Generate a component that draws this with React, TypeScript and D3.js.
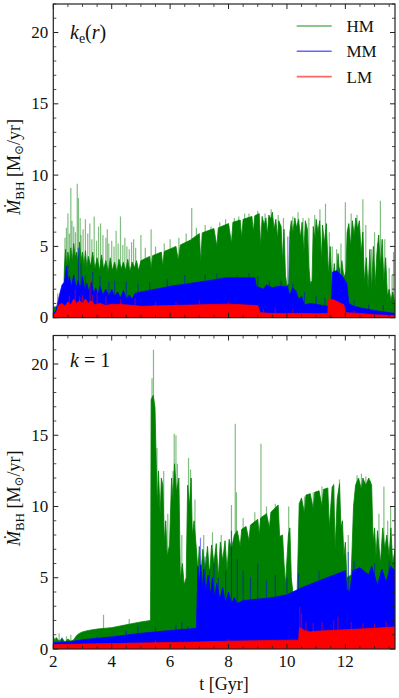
import React from "react";
import * as d3 from "d3";

type P = [number, number];

// ---------- data (t [Gyr], Mdot [Msun/yr]) ----------
const X_DOMAIN: [number, number] = [2, 13.7];
const Y_DOMAIN: [number, number] = [0, 22];
const xMajorTicks = [2, 4, 6, 8, 10, 12];
const yMajorTicks = [0, 5, 10, 15, 20];
const legendLabels = ["HM", "MM", "LM"];
const seriesColors = ["#008000", "#0000ff", "#ff0000"];

// top panel: k_e(r)
const topHMSolid: P[] = [
  [2.0, 0.75], [2.35, 0.8], [2.38, 3.5], [2.42, 4.8], [2.46, 3.6], [2.5, 4.6], [2.55, 3.8], [2.6, 4.9],
  [2.65, 3.9], [2.7, 5.2], [2.75, 4.2], [2.8, 4.6], [2.85, 3.7], [2.9, 5.3], [2.95, 4.0], [3.0, 4.6],
  [3.05, 3.6], [3.1, 4.7], [3.15, 3.5], [3.2, 4.3], [3.28, 3.6], [3.35, 4.6], [3.42, 3.4], [3.5, 4.2],
  [3.58, 3.3], [3.65, 4.4], [3.72, 3.4], [3.8, 4.0], [3.88, 3.2], [3.95, 4.2], [4.02, 3.3], [4.1, 3.9],
  [4.18, 3.2], [4.25, 4.1], [4.32, 3.4], [4.4, 3.9], [4.48, 3.3], [4.55, 4.1], [4.62, 3.2], [4.7, 3.9],
  [4.78, 3.5], [4.85, 4.0], [4.92, 3.3], [5.0, 4.0], [5.3, 4.3], [5.35, 3.4], [5.4, 4.35], [5.7, 4.6],
  [5.75, 3.6], [5.8, 4.65], [6.2, 5.0], [6.28, 4.0], [6.35, 5.1], [6.7, 5.45], [7.0, 5.9], [7.05, 3.9],
  [7.1, 5.95], [7.5, 6.25], [7.6, 5.0], [7.65, 6.3], [8.0, 6.6], [8.1, 5.2], [8.15, 6.7], [8.4, 6.85],
  [8.45, 5.6], [8.5, 6.9], [8.8, 7.1], [8.85, 6.0], [8.9, 7.15], [9.05, 7.3], [9.1, 5.0], [9.15, 7.1],
  [9.22, 6.5], [9.28, 7.0], [9.33, 5.8], [9.38, 7.2], [9.45, 6.9], [9.5, 7.4], [9.56, 6.2], [9.62, 6.9],
  [9.68, 5.5], [9.72, 6.8], [9.8, 6.4], [9.85, 4.0], [9.9, 6.2], [9.95, 3.0], [10.0, 2.2], [10.06, 2.4],
  [10.1, 6.0], [10.15, 6.8], [10.2, 5.9], [10.27, 7.0], [10.33, 6.3], [10.4, 6.9], [10.46, 5.6],
  [10.52, 6.7], [10.58, 4.5], [10.63, 6.8], [10.7, 6.2], [10.75, 3.5], [10.8, 2.4], [10.86, 2.6],
  [10.9, 6.4], [10.96, 5.5], [11.0, 6.9], [11.06, 6.0], [11.12, 6.8], [11.18, 4.0], [11.22, 6.5],
  [11.28, 5.2], [11.35, 6.6], [11.42, 3.0], [11.48, 5.0], [11.55, 2.0], [11.62, 3.8], [11.68, 2.2],
  [11.75, 4.5], [11.82, 2.5], [11.88, 4.0], [11.95, 2.8], [12.02, 3.2], [12.06, 6.0], [12.12, 6.6],
  [12.18, 5.0], [12.24, 6.8], [12.3, 5.8], [12.36, 7.0], [12.42, 6.2], [12.48, 6.8], [12.54, 4.5],
  [12.6, 6.0], [12.65, 2.5], [12.72, 4.2], [12.78, 2.0], [12.84, 4.8], [12.9, 1.8], [12.96, 5.0],
  [13.02, 2.2], [13.08, 4.5], [13.14, 5.8], [13.2, 3.5], [13.26, 5.5], [13.32, 2.5], [13.38, 4.2],
  [13.44, 1.5], [13.5, 2.0], [13.56, 1.2], [13.62, 1.8], [13.7, 1.0],
];
const topHMSpikes: P[] = [
  [2.4, 5.6], [2.45, 6.3], [2.5, 7.3], [2.55, 5.9], [2.6, 9.1], [2.64, 6.8], [2.7, 6.4], [2.76, 6.0],
  [2.82, 9.4], [2.86, 8.4], [2.92, 7.0], [2.95, 5.8], [3.02, 6.2], [3.1, 6.9], [3.18, 5.9], [3.25, 6.6],
  [3.32, 5.5], [3.4, 7.1], [3.48, 5.4], [3.55, 6.4], [3.62, 6.6], [3.7, 5.8], [3.8, 5.6], [3.85, 6.2],
  [3.9, 5.2], [4.0, 5.4], [4.08, 5.0], [4.15, 6.1], [4.22, 5.2], [4.3, 7.1], [4.38, 5.1], [4.45, 5.6],
  [4.52, 5.0], [4.6, 4.8], [4.68, 5.3], [4.75, 5.5], [4.82, 4.9], [5.0, 5.8], [5.15, 4.9], [5.35, 6.2],
  [5.5, 5.0], [5.8, 5.2], [6.0, 5.5], [6.3, 5.6], [6.55, 5.9], [6.74, 7.7], [6.9, 6.3], [7.2, 6.5],
  [7.4, 6.4], [7.7, 6.7], [7.9, 6.9], [8.2, 7.0], [8.35, 7.1], [8.55, 7.3], [8.7, 7.3], [9.0, 7.5],
  [9.25, 7.3], [9.46, 7.6], [9.7, 7.2], [9.88, 7.0], [10.2, 7.1], [10.38, 7.4], [10.55, 7.0],
  [10.75, 7.0], [10.95, 7.2], [11.13, 7.6], [11.32, 8.0], [11.45, 6.0], [11.55, 5.0], [11.7, 4.8],
  [11.85, 5.2], [12.0, 8.1], [12.2, 7.3], [12.4, 7.2], [12.6, 8.3], [12.7, 6.5], [12.9, 4.8],
  [13.0, 6.0], [13.1, 5.2], [13.2, 8.2], [13.35, 5.5], [13.5, 3.5], [13.6, 3.0], [13.65, 4.6],
];
const topMMSolid: P[] = [
  [2.0, 0.2], [2.1, 0.6], [2.2, 1.5], [2.3, 2.3], [2.38, 2.5], [2.45, 3.6], [2.5, 2.4], [2.55, 2.9],
  [2.62, 2.2], [2.7, 3.0], [2.78, 2.1], [2.85, 2.6], [2.92, 2.0], [3.0, 2.9], [3.08, 1.9], [3.15, 2.4],
  [3.22, 1.8], [3.3, 2.5], [3.38, 1.7], [3.45, 2.1], [3.52, 1.6], [3.6, 2.2], [3.7, 1.6], [3.8, 2.0],
  [3.9, 1.5], [4.0, 2.0], [4.1, 1.5], [4.2, 1.8], [4.3, 1.4], [4.4, 1.9], [4.5, 1.3], [4.6, 1.6],
  [4.7, 1.3], [4.8, 1.7], [5.0, 1.8], [5.5, 2.0], [6.0, 2.2], [6.5, 2.35], [7.0, 2.5], [7.5, 2.65],
  [7.9, 2.8], [8.9, 2.8], [8.95, 2.2], [9.2, 2.0], [9.3, 2.3], [9.5, 2.1], [9.7, 2.2], [10.0, 2.2],
  [10.1, 1.6], [10.2, 2.1], [10.3, 1.9], [10.4, 1.3], [10.5, 1.5], [10.6, 0.9], [10.8, 1.0],
  [11.1, 0.9], [11.4, 0.8], [11.52, 0.7], [11.56, 3.2], [11.7, 3.3], [11.9, 2.9], [12.05, 2.4],
  [12.12, 1.0], [12.3, 0.8], [12.5, 0.7], [13.0, 0.5], [13.7, 0.3],
];
const topMMSpikes: P[] = [
  [2.5, 3.7], [2.86, 4.9], [2.95, 3.8], [3.1, 3.0], [3.35, 3.2], [3.6, 2.9], [3.9, 2.5], [4.1, 2.6],
  [4.5, 2.5], [4.9, 2.4], [5.3, 2.5], [5.9, 2.7], [6.5, 3.0], [7.2, 3.0], [7.6, 3.1], [8.3, 3.0],
  [8.7, 3.1], [9.0, 2.9], [9.4, 2.6], [9.8, 2.6], [10.03, 5.7], [10.2, 2.4], [10.6, 1.8], [11.0, 1.5],
  [11.3, 1.4], [11.8, 3.5], [12.3, 1.2], [12.8, 0.9], [13.3, 0.9],
];
const topLMSolid: P[] = [
  [2.0, 0.15], [2.1, 0.4], [2.2, 0.9], [2.3, 1.0], [2.4, 0.8], [2.5, 1.1], [2.6, 0.9], [2.7, 1.3],
  [2.8, 1.0], [2.9, 1.2], [3.0, 1.0], [3.1, 1.3], [3.2, 1.0], [3.3, 1.2], [3.4, 0.9], [3.6, 1.0],
  [3.8, 0.85], [4.0, 0.95], [4.5, 0.9], [5.0, 0.8], [6.0, 0.85], [7.0, 0.9], [8.0, 0.95], [8.5, 0.9],
  [9.0, 0.85], [9.08, 0.35], [9.5, 0.3], [10.5, 0.3], [11.0, 0.28], [11.4, 0.3], [11.42, 1.3],
  [11.6, 1.25], [11.8, 1.05], [11.95, 0.9], [12.0, 0.35], [12.5, 0.3], [13.0, 0.2], [13.7, 0.15],
];
const topLMSpikes: P[] = [
  [2.15, 1.7], [2.55, 1.5], [2.75, 2.0], [2.9, 1.5], [3.0, 1.6], [3.26, 2.7], [3.35, 1.6], [3.5, 1.7],
  [3.8, 1.5], [4.3, 1.3], [4.8, 1.4], [5.5, 1.1], [6.2, 1.1], [7.0, 1.2], [8.0, 1.1], [9.2, 0.6],
  [9.6, 0.7], [10.2, 0.6], [11.45, 1.7], [12.3, 0.5],
];

// bottom panel: k = 1
const botHMSolid: P[] = [
  [2.0, 0.9], [2.05, 0.6], [2.1, 0.8], [2.2, 0.55], [2.3, 0.75], [2.4, 0.5], [2.5, 0.7], [2.6, 0.55],
  [2.7, 0.65], [2.8, 0.95], [2.9, 1.1], [3.0, 1.2], [3.2, 1.3], [3.5, 1.4], [4.0, 1.5], [4.5, 1.7],
  [5.0, 1.9], [5.33, 2.0], [5.35, 17.5], [5.42, 17.8], [5.48, 17.0], [5.52, 13.5], [5.56, 10.0],
  [5.6, 12.5], [5.66, 9.5], [5.7, 12.0], [5.75, 11.5], [5.8, 7.5], [5.85, 9.0], [5.9, 6.5],
  [5.98, 7.3], [6.05, 12.0], [6.1, 10.5], [6.15, 13.0], [6.22, 11.0], [6.3, 12.0], [6.35, 5.0],
  [6.42, 6.0], [6.48, 4.5], [6.55, 5.0], [6.6, 11.5], [6.66, 10.0], [6.72, 12.0], [6.76, 8.0],
  [6.82, 9.0], [6.9, 7.0], [6.95, 5.5], [7.0, 7.2], [7.05, 5.0], [7.12, 7.0], [7.2, 5.5], [7.28, 7.2],
  [7.35, 5.2], [7.42, 7.3], [7.5, 6.0], [7.58, 7.4], [7.65, 5.0], [7.72, 7.5], [7.8, 6.2], [7.88, 7.6],
  [7.95, 5.5], [8.02, 7.7], [8.1, 7.0], [8.2, 8.0], [8.3, 8.3], [8.4, 7.2], [8.45, 8.4], [8.6, 8.6],
  [8.7, 7.6], [8.75, 8.7], [9.0, 9.1], [9.05, 8.0], [9.1, 9.2], [9.3, 9.5], [9.4, 8.5], [9.45, 9.6],
  [9.7, 10.1], [9.75, 7.9], [9.85, 8.0], [9.9, 6.0], [9.95, 4.5], [10.05, 8.0], [10.1, 8.5],
  [10.15, 5.0], [10.2, 4.0], [10.35, 4.0], [10.42, 10.2], [10.5, 10.6], [10.6, 9.5], [10.65, 10.8],
  [10.8, 10.9], [10.9, 9.8], [10.95, 11.0], [11.1, 11.1], [11.2, 10.0], [11.25, 11.2], [11.4, 11.3],
  [11.45, 8.5], [11.55, 11.4], [11.6, 11.5], [11.65, 7.0], [11.72, 10.5], [11.8, 11.6], [11.85, 8.5],
  [11.9, 9.0], [11.95, 6.5], [12.0, 7.5], [12.05, 5.0], [12.2, 5.2], [12.28, 10.0], [12.35, 11.5],
  [12.45, 12.0], [12.55, 11.2], [12.6, 12.0], [12.7, 11.5], [12.8, 12.0], [12.9, 11.5], [12.95, 7.5],
  [13.0, 8.5], [13.05, 6.5], [13.1, 8.3], [13.2, 6.0], [13.28, 8.5], [13.35, 7.0], [13.42, 8.0],
  [13.5, 6.5], [13.56, 8.5], [13.62, 6.0], [13.7, 7.0],
];
const botHMSpikes: P[] = [
  [2.2, 1.1], [2.45, 0.9], [2.6, 1.0], [3.72, 2.4], [4.6, 2.1], [5.38, 19.0], [5.43, 21.0],
  [5.47, 16.8], [5.55, 14.1], [5.6, 10.3], [5.7, 10.2], [5.78, 12.5], [5.92, 9.5], [6.1, 12.5],
  [6.14, 15.1], [6.2, 15.0], [6.25, 13.0], [6.4, 8.0], [6.63, 13.4], [6.7, 12.6], [6.85, 10.5],
  [7.15, 8.0], [7.45, 8.2], [7.75, 8.0], [8.1, 10.1], [8.23, 15.8], [8.27, 11.0], [8.5, 9.2],
  [8.9, 9.6], [9.11, 14.4], [9.3, 10.0], [9.6, 10.2], [10.06, 10.0], [10.6, 10.7], [10.9, 11.0],
  [11.2, 11.4], [11.6, 11.6], [11.8, 11.9], [12.1, 8.0], [12.4, 12.2], [12.55, 12.3], [12.7, 12.1],
  [12.85, 11.8], [13.15, 9.5], [13.32, 11.4], [13.45, 9.0], [13.55, 10.0],
];
const botMMSolid: P[] = [
  [2.0, 0.45], [2.5, 0.5], [2.7, 0.55], [3.0, 0.65], [4.0, 0.85], [5.0, 1.1], [6.0, 1.3], [6.9, 1.45],
  [6.95, 5.8], [7.0, 4.5], [7.05, 5.9], [7.1, 4.2], [7.15, 5.6], [7.22, 4.0], [7.3, 5.2], [7.38, 3.8],
  [7.45, 5.0], [7.52, 3.6], [7.6, 4.6], [7.7, 3.5], [7.8, 4.3], [7.9, 3.2], [8.0, 4.0], [8.1, 3.2],
  [8.2, 3.6], [8.3, 3.2], [8.5, 3.4], [9.0, 3.5], [9.5, 3.6], [10.0, 3.8], [10.5, 4.3], [11.0, 4.7],
  [11.5, 5.1], [12.0, 5.5], [12.05, 4.2], [12.15, 4.0], [12.25, 5.5], [12.5, 5.7], [12.8, 5.2],
  [12.9, 5.8], [13.1, 4.5], [13.25, 5.6], [13.4, 4.7], [13.55, 5.8], [13.7, 5.5],
];
const botMMSpikes: P[] = [
  [2.3, 0.8], [3.5, 0.9], [4.5, 1.3], [4.9, 1.6], [5.5, 1.5], [6.2, 1.7], [6.4, 1.9], [6.6, 1.6],
  [7.04, 7.8], [7.2, 6.5], [7.35, 5.6], [7.5, 6.0], [7.65, 5.0], [7.9, 5.5], [8.1, 8.3], [8.3, 6.3],
  [8.5, 5.5], [8.75, 5.0], [9.0, 6.0], [9.3, 4.8], [9.6, 5.2], [10.0, 5.0], [10.4, 5.3], [11.1, 5.5],
  [12.1, 6.8], [12.3, 6.2], [13.0, 6.0], [13.5, 6.2],
];
const botLMSolid: P[] = [
  [2.0, 0.3], [3.0, 0.35], [4.0, 0.38], [5.0, 0.42], [6.0, 0.45], [7.0, 0.5], [8.0, 0.55], [9.0, 0.58],
  [10.0, 0.62], [10.4, 0.62], [10.43, 1.5], [10.6, 1.3], [10.8, 1.2], [11.0, 1.25], [11.5, 1.3],
  [12.0, 1.35], [12.5, 1.4], [13.0, 1.45], [13.7, 1.55],
];
const botLMSpikes: P[] = [
  [5.5, 0.6], [8.0, 0.7], [10.44, 2.97], [10.5, 2.5], [10.65, 1.9], [10.9, 1.8], [11.2, 1.9],
  [11.6, 2.0], [11.75, 2.27], [12.2, 1.9], [12.6, 1.8], [13.0, 1.8], [13.4, 1.9],
];

// ---------- layout ----------
const W = 399;
const H = 698;
const LEFT = 53.3;
const RIGHT = 395;
const FONT = "'Liberation Serif', 'DejaVu Serif', serif";

type Series = { solid: P[]; spikes: P[]; color: string };

function Panel(props: {
  id: string;
  top: number;
  bottom: number;
  series: Series[];
  showXLabels: boolean;
  annotation: React.ReactNode;
  legend: boolean;
}) {
  const { id, top, bottom, series, showXLabels, annotation, legend } = props;
  const x = d3.scaleLinear().domain(X_DOMAIN).range([LEFT, RIGHT]);
  const y = d3.scaleLinear().domain(Y_DOMAIN).range([bottom, top]);
  const area = d3
    .area<P>()
    .x((d) => x(d[0]))
    .y0(y(0))
    .y1((d) => y(d[1]));
  const xMinor = d3.range(2, 13.70001, 0.5).filter((v) => !xMajorTicks.includes(v));
  const yMinor = d3.range(0, 22.0001, 1).filter((v) => !yMajorTicks.includes(v));
  const maj = 5;
  const mnr = 3;
  const tickColor = "#222";
  return (
    <g>
      <defs>
        <clipPath id={id}>
          <rect x={LEFT} y={top} width={RIGHT - LEFT} height={bottom - top} />
        </clipPath>
      </defs>
      <g clipPath={`url(#${id})`}>
        {series.map((s, i) => (
          <g key={i}>
            {s.spikes.map((p, j) => (
              <line
                key={j}
                x1={x(p[0])}
                x2={x(p[0])}
                y1={y(0)}
                y2={y(p[1])}
                stroke={s.color}
                strokeOpacity={0.5}
                strokeWidth={1.2}
              />
            ))}
            <path d={area(s.solid) || ""} fill={s.color} stroke={s.color} strokeWidth={0.8} strokeLinejoin="miter" />
          </g>
        ))}
      </g>
      {xMajorTicks.map((t) => (
        <g key={"xm" + t}>
          <line x1={x(t)} x2={x(t)} y1={bottom} y2={bottom - maj} stroke={tickColor} strokeWidth={1} />
          <line x1={x(t)} x2={x(t)} y1={top} y2={top + maj} stroke={tickColor} strokeWidth={1} />
          {showXLabels && (
            <text x={x(t)} y={bottom + 18} textAnchor="middle" fontSize={17} fontFamily={FONT} fill="#111">
              {t}
            </text>
          )}
        </g>
      ))}
      {xMinor.map((t) => (
        <g key={"xn" + t}>
          <line x1={x(t)} x2={x(t)} y1={bottom} y2={bottom - mnr} stroke={tickColor} strokeWidth={0.8} />
          <line x1={x(t)} x2={x(t)} y1={top} y2={top + mnr} stroke={tickColor} strokeWidth={0.8} />
        </g>
      ))}
      {yMajorTicks.map((v) => (
        <g key={"ym" + v}>
          <line x1={LEFT} x2={LEFT + maj} y1={y(v)} y2={y(v)} stroke={tickColor} strokeWidth={1} />
          <line x1={RIGHT} x2={RIGHT - maj} y1={y(v)} y2={y(v)} stroke={tickColor} strokeWidth={1} />
          <text x={LEFT - 5} y={y(v) + 5.5} textAnchor="end" fontSize={17} fontFamily={FONT} fill="#111">
            {v}
          </text>
        </g>
      ))}
      {yMinor.map((v) => (
        <g key={"yn" + v}>
          <line x1={LEFT} x2={LEFT + mnr} y1={y(v)} y2={y(v)} stroke={tickColor} strokeWidth={0.8} />
          <line x1={RIGHT} x2={RIGHT - mnr} y1={y(v)} y2={y(v)} stroke={tickColor} strokeWidth={0.8} />
        </g>
      ))}
      <rect x={LEFT} y={top} width={RIGHT - LEFT} height={bottom - top} fill="none" stroke="#222" strokeWidth={1.2} />
      {annotation}
      {legend &&
        legendLabels.map((lab, i) => (
          <g key={lab}>
            <line
              x1={296.7}
              x2={331.7}
              y1={top + 22 + i * 25.3}
              y2={top + 22 + i * 25.3}
              stroke={seriesColors[i]}
              strokeOpacity={0.6}
              strokeWidth={1.6}
            />
            <text x={346.5} y={top + 28 + i * 25.3} fontSize={17} fontFamily={FONT} fill="#111">
              {lab}
            </text>
          </g>
        ))}
      <g transform={`translate(${20},${(top + bottom) / 2 + 6}) rotate(-90)`}>
        <text textAnchor="middle" fontSize={18} fontFamily={FONT} fill="#111">
          <tspan fontStyle="italic">Ṁ</tspan>
          <tspan fontSize={13} dy={4}>BH</tspan>
          <tspan dy={-4}> [M</tspan>
          <tspan fontSize={12} dy={3}>⊙</tspan>
          <tspan dy={-3}>/yr]</tspan>
        </text>
      </g>
    </g>
  );
}

export default function App() {
  const topSeries: Series[] = [
    { solid: topHMSolid, spikes: topHMSpikes, color: seriesColors[0] },
    { solid: topMMSolid, spikes: topMMSpikes, color: seriesColors[1] },
    { solid: topLMSolid, spikes: topLMSpikes, color: seriesColors[2] },
  ];
  const botSeries: Series[] = [
    { solid: botHMSolid, spikes: botHMSpikes, color: seriesColors[0] },
    { solid: botMMSolid, spikes: botMMSpikes, color: seriesColors[1] },
    { solid: botLMSolid, spikes: botLMSpikes, color: seriesColors[2] },
  ];
  return (
    <svg width={W} height={H} style={{ position: "absolute", left: 0, top: 0, background: "#fff" }}>
      <rect x={0} y={0} width={W} height={H} fill="#fff" />
      <Panel
        id="clipTop"
        top={4}
        bottom={317.7}
        series={topSeries}
        showXLabels={false}
        legend={true}
        annotation={
          <text x={70} y={39} fontSize={20} fontFamily={FONT} fill="#111">
            <tspan fontStyle="italic">k</tspan>
            <tspan fontSize={14} dy={4}>e</tspan>
            <tspan dy={-4}>(</tspan>
            <tspan fontStyle="italic">r</tspan>
            <tspan>)</tspan>
          </text>
        }
      />
      <Panel
        id="clipBot"
        top={335.5}
        bottom={649}
        series={botSeries}
        showXLabels={true}
        legend={false}
        annotation={
          <text x={70} y={367} fontSize={20} fontFamily={FONT} fill="#111">
            <tspan fontStyle="italic">k</tspan>
            <tspan> = 1</tspan>
          </text>
        }
      />
      <text x={224} y={690} textAnchor="middle" fontSize={18} fontFamily={FONT} fill="#111">
        t [Gyr]
      </text>
    </svg>
  );
}
